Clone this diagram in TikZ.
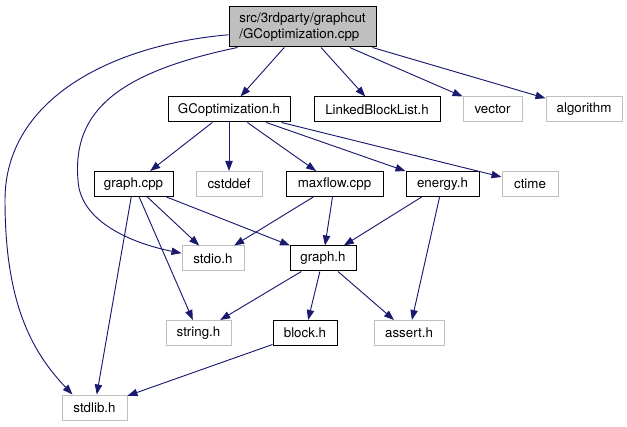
\documentclass[tikz,border=0pt]{standalone}
\usepackage{fontspec}
\setmainfont{TeX Gyre Heros}
\usetikzlibrary{arrows.meta}
\definecolor{incedge}{RGB}{25,25,112}
\definecolor{extgray}{RGB}{191,191,191}

\begin{document}
\begin{tikzpicture}[x=0.75pt,y=-0.75pt,font=\fontsize{10}{11.5}\selectfont,
    >={Triangle[length=7.5pt,width=5.5pt]},
    hdr/.style={draw=black, line width=0.75pt, minimum height=18.75pt, inner sep=0pt},
    sys/.style={hdr, draw=extgray},
    inc/.style={->, draw=incedge, line width=0.7pt}]
    \useasboundingbox (0,0) rectangle (627,427);

    % root file
    \node[hdr, fill=extgray, minimum width=110.25pt, minimum height=30pt, align=left] (root) at (302.5,27) {src/3rdparty/graphcut\\/GCoptimization.cpp};

    % first level
    \node[hdr, minimum width=91.5pt] (gco) at (229,109.5) {GCoptimization.h};
    \node[hdr, minimum width=94.5pt] (lbl) at (377,109.5) {LinkedBlockList.h};
    \node[sys, minimum width=44.25pt] (vector) at (492.5,109.5) {vector};
    \node[sys, minimum width=57pt] (algorithm) at (584,109.5) {algorithm};

    % second level
    \node[hdr, minimum width=59.25pt] (gcpp) at (133.5,184) {graph.cpp};
    \node[sys, minimum width=49.5pt] (cstddef) at (229,184) {cstddef};
    \node[hdr, minimum width=72.75pt] (maxflow) at (334.5,184) {maxflow.cpp};
    \node[hdr, minimum width=54.75pt] (energy) at (442.5,184) {energy.h};
    \node[sys, minimum width=42pt] (ctime) at (530,184) {ctime};

    % lower levels
    \node[sys, minimum width=46.5pt] (stdio) at (213,258.5) {stdio.h};
    \node[hdr, minimum width=49.5pt] (graphh) at (323,258.5) {graph.h};
    \node[sys, minimum width=48.75pt] (string) at (198.5,333) {string.h};
    \node[hdr, minimum width=48pt] (block) at (305,333) {block.h};
    \node[sys, minimum width=52.5pt] (assert) at (409,333) {assert.h};
    \node[sys, minimum width=48.75pt] (stdlib) at (94.5,407.5) {stdlib.h};

    % includes of the root
    \draw[inc] (root) -- (gco);
    \draw[inc] (root) -- (lbl);
    \draw[inc] (root) -- (vector);
    \draw[inc] (root) -- (algorithm);
    \draw[inc] (root.186) .. controls (110,45) and (5,100) .. (5,200)
        .. controls (5,300) and (30,350) .. ([xshift=8.25pt]stdlib.north west);
    \draw[inc] ([xshift=6.75pt]root.south west) .. controls (120,72) and (72,110) .. (78,180)
        .. controls (80,225) and (140,245) .. ([yshift=4pt]stdio.west);

    % GCoptimization.h
    \foreach \t in {gcpp,cstddef,maxflow,energy,ctime}
        \draw[inc] (gco) -- (\t);

    % graph.cpp
    \foreach \t in {stdio,graphh,string,stdlib}
        \draw[inc] (gcpp) -- (\t);

    \draw[inc] (maxflow) -- (stdio);
    \draw[inc] (maxflow) -- (graphh);
    \draw[inc] (energy) -- (graphh);
    \draw[inc] (energy) -- (assert);

    % graph.h
    \foreach \t in {string,block,assert}
        \draw[inc] (graphh) -- (\t);

    \draw[inc] (block) -- (stdlib);
\end{tikzpicture}
\end{document}
